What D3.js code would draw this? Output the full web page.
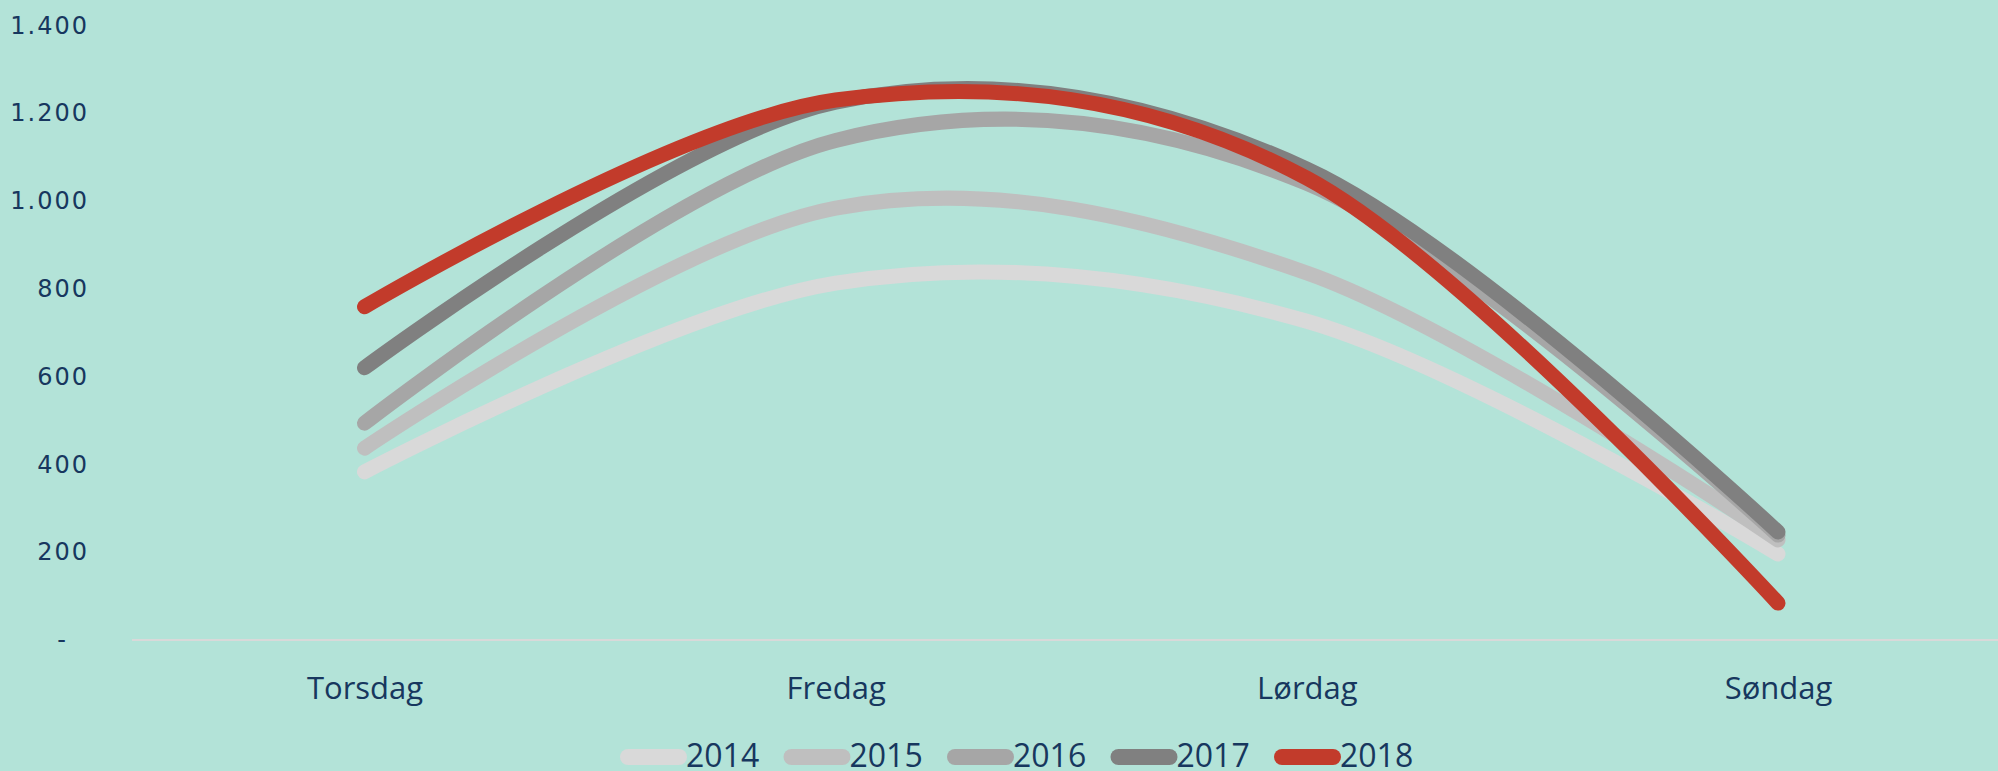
<!DOCTYPE html>
<html>
<head>
<meta charset="utf-8">
<script src="https://cdn.jsdelivr.net/npm/d3@7"></script>
<style>
  body { margin: 0; background: #b3e3d8; }
  svg { display: block; }
</style>
</head>
<body>
<div class="chart"></div>
<script>
var days = ['Torsdag', 'Fredag', 'Lørdag', 'Søndag']
var years = ['2014', '2015', '2016', '2017', '2018']
var v2014 = [383, 813, 726, 196]
var v2015 = [437, 984, 836, 228]
var v2016 = [494, 1138, 1040, 239]
var v2017 = [620, 1225, 1073, 246]
var v2018 = [759, 1230, 1052, 84]
var yTicks = [0, 200, 400, 600, 800, 1000, 1200, 1400]
var colors = ['#d9d9d9', '#bfbfbf', '#a6a6a6', '#808080', '#c23b2b']

var series = [v2014, v2015, v2016, v2017, v2018]

var width = 1998
var height = 771
var textColor = '#17375e'

var svg = d3.select('.chart')
  .append('svg')
    .attr('width', width)
    .attr('height', height)

svg.append('rect')
  .attr('width', width)
  .attr('height', height)
  .attr('fill', '#b3e3d8')

var x = d3.scalePoint()
  .domain(days)
  .range([364.5, 1778])

var y = d3.scaleLinear()
  .domain([0, 1400])
  .range([640, 25.4])

// excel style numbers: 1.400, zero as a dash
var loc = d3.formatLocale({ decimal: ',', thousands: '.', grouping: [3], currency: ['', ''] })
var fmt = loc.format(',d')

var yAxis = d3.axisLeft(y)
  .tickValues(yTicks)
  .tickSize(0)
  .tickPadding(0)
  .tickFormat(d => d === 0 ? '-' : fmt(d))

var gy = svg.append('g')
  .attr('transform', 'translate(89, 0)')
  .call(yAxis)
gy.select('.domain').remove()
gy.selectAll('text')
  .attr('fill', textColor)
  .attr('font-family', 'DejaVu Sans')
  .attr('font-size', 24)
  .attr('letter-spacing', 2)
  .attr('dx', d => d === 0 ? -21 : 0)

// baseline
svg.append('line')
  .attr('x1', 132)
  .attr('x2', width)
  .attr('y1', y(0))
  .attr('y2', y(0))
  .attr('stroke', '#d9d9d9')
  .attr('stroke-width', 2)

var xAxis = d3.axisBottom(x)
  .tickSize(0)
  .tickPadding(37)

var gx = svg.append('g')
  .attr('transform', `translate(0, ${y(0)})`)
  .call(xAxis)
gx.select('.domain').remove()
gx.selectAll('text')
  .attr('fill', textColor)
  .attr('font-family', 'Open Sans')
  .attr('font-size', 31)

var line = d3.line()
  .x((d, i) => x(days[i]))
  .y(d => y(d))
  .curve(d3.curveCatmullRom.alpha(0))

svg.selectAll('.series')
  .data(series)
  .enter()
  .append('path')
    .attr('class', 'series')
    .attr('d', line)
    .attr('fill', 'none')
    .attr('stroke', (d, i) => colors[i])
    .attr('stroke-width', 15)
    .attr('stroke-linecap', 'round')
    .attr('stroke-linejoin', 'round')

// legend
var legend = svg.append('g')
  .attr('transform', 'translate(620, 757)')

var item = legend.selectAll('g')
  .data(years)
  .enter()
  .append('g')
    .attr('transform', (d, i) => `translate(${i * 163.5}, 0)`)

item.append('line')
  .attr('x1', 8)
  .attr('x2', 59)
  .attr('stroke', (d, i) => colors[i])
  .attr('stroke-width', 16)
  .attr('stroke-linecap', 'round')

item.append('text')
  .attr('x', 66)
  .attr('y', 10)
  .attr('fill', textColor)
  .attr('font-family', 'Open Sans')
  .attr('font-size', 32)
  .text(d => d)
</script>
</body>
</html>
